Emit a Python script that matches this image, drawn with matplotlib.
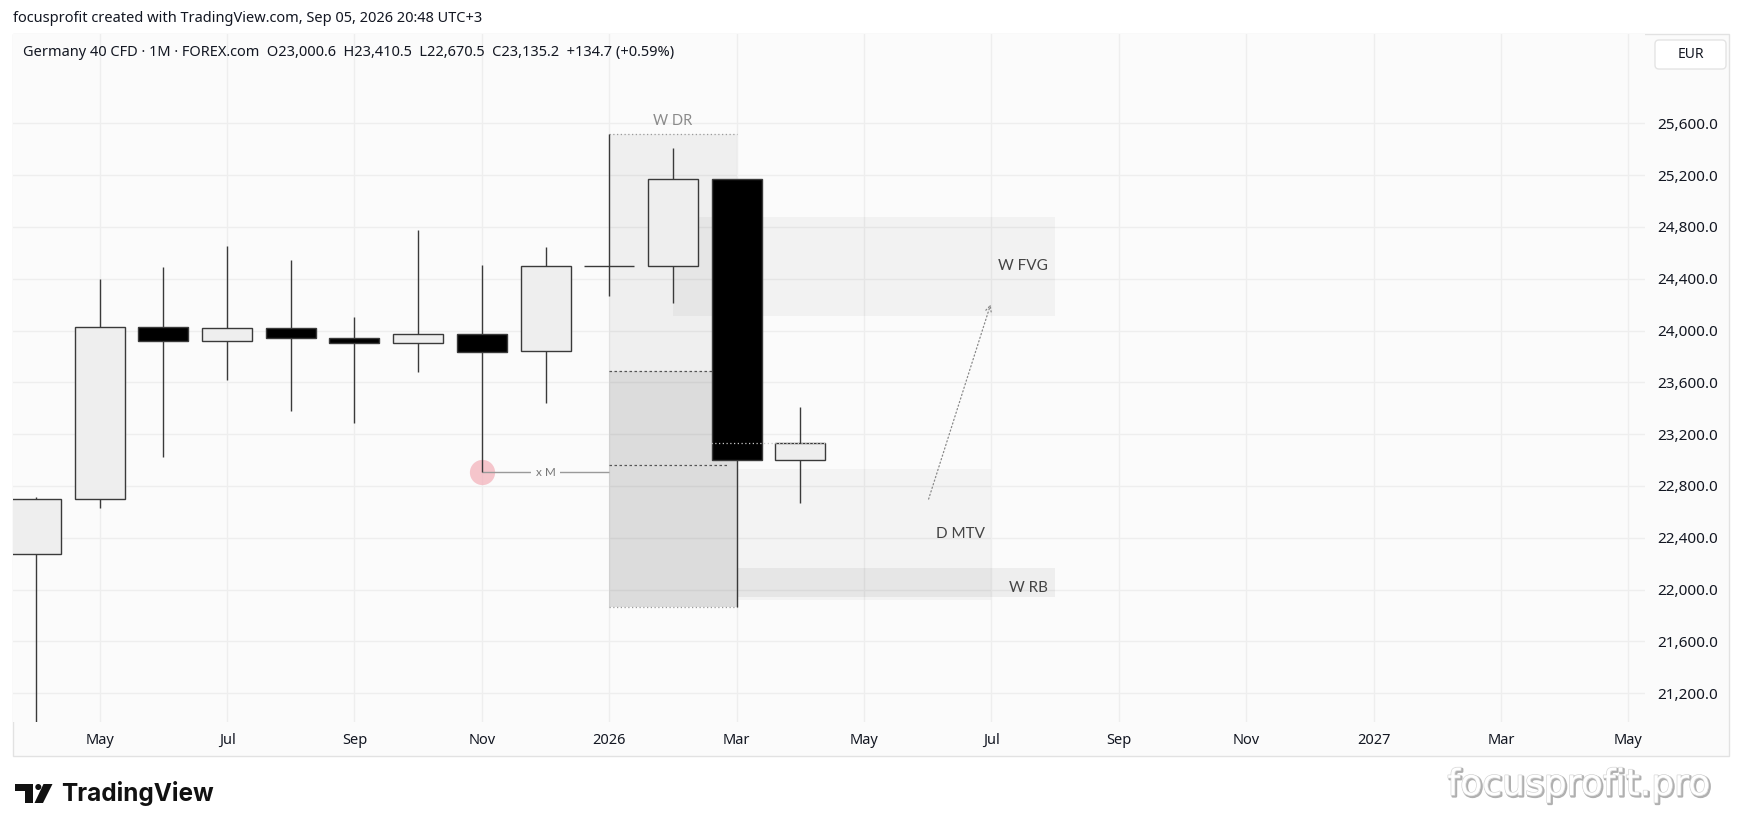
import matplotlib
matplotlib.use('Agg')
import matplotlib.pyplot as plt
import matplotlib.patheffects as pe
from matplotlib.patches import Rectangle, Circle, Polygon, FancyBboxPatch

# ── Data ──────────────────────────────────────────────────────────────────────
# monthly bars, index 0 = Apr 2025
MONTHS = ['Apr 25', 'May 25', 'Jun 25', 'Jul 25', 'Aug 25', 'Sep 25', 'Oct 25',
          'Nov 25', 'Dec 25', 'Jan 26', 'Feb 26', 'Mar 26', 'Apr 26']
OPEN = [22274, 22697, 24030, 23917, 24017, 23940, 23901, 23971, 23839, 24496, 24498, 25168, 23000.6]
HIGH = [22717, 24397, 24490, 24652, 24544, 24104, 24775, 24506, 24642, 25515, 25407, 25168, 23410.5]
LOW = [18490, 22632, 23026, 23618, 23378, 23288, 23682, 22905, 23438, 24269, 24210, 21863, 22670.5]
CLOSE = [22697, 24030, 23917, 24017, 23940, 23901, 23971, 23836, 24496, 24500, 25168, 23001, 23135.2]

XTICKS = [1, 3, 5, 7, 9, 11, 13, 15, 17, 19, 21, 23, 25]
XLABELS = ['May', 'Jul', 'Sep', 'Nov', '2026', 'Mar', 'May', 'Jul', 'Sep', 'Nov', '2027', 'Mar', 'May']
YTICKS = [21200, 21600, 22000, 22400, 22800, 23200, 23600, 24000, 24400, 24800, 25200, 25600]

# zones: (x0, x1, low, high)
WDR = (9, 11, 21863, 25515)
WDR_MID = 23689
WDR_LINE = 22959
WFVG = (10, 16, 24112, 24879)
DMTV = (11, 15, 21918, 22928)
WRB = (11, 16, 21944, 22164)
XM_LEVEL = 22905
ARROW = ((14, 22678), (15, 24222))
LAST_PRICE = 23135.2

HEADER = 'focusprofit created with TradingView.com, Sep 05, 2026 20:48 UTC+3'
LEGEND = ('Germany 40 CFD · 1M · FOREX.com  O23,000.6  H23,410.5  '
          'L22,670.5  C23,135.2  +134.7 (+0.59%)')

# ── Layout ────────────────────────────────────────────────────────────────────
W, H = 1744, 832
BG = '#fbfbfb'
INK = '#131722'
EDGE = '#3a3a3a'
FONT = ['Noto Sans', 'DejaVu Sans']
LABEL_FONT = ['Lato', 'DejaVu Sans']

plt.rcParams['font.family'] = FONT

fig = plt.figure(figsize=(W / 100, H / 100), dpi=100)
fig.patch.set_facecolor('white')

# chart pane (drawn behind the axes)
fig.patches.append(Rectangle((13 / W, 1 - 756 / H), (1729 - 13) / W, (756 - 34) / H,
                             transform=fig.transFigure, facecolor=BG,
                             edgecolor='#e2e2e2', linewidth=1, zorder=-5))

ax = fig.add_axes([13 / W, 1 - 722 / H, (1645 - 13) / W, (722 - 34) / H], zorder=1)
ax.set_facecolor(BG)
for s in ax.spines.values():
    s.set_visible(False)
ax.set_xlim(-0.361, 25.26)
ax.set_ylim(20977, 26290)

ax.set_xticks(XTICKS)
ax.set_xticklabels(XLABELS)
ax.set_yticks(YTICKS)
ax.set_yticklabels([f'{v:,.1f}' for v in YTICKS])
ax.yaxis.tick_right()
ax.tick_params(axis='x', length=0, pad=8, labelsize=10.5, labelcolor=INK)
ax.tick_params(axis='y', length=0, pad=9, labelsize=11, labelcolor=INK)
for lbl in ax.get_xticklabels():
    if lbl.get_text() in ('2026', '2027'):
        lbl.set_fontweight('bold')
for lbl in ax.get_yticklabels():
    if lbl.get_text() in ('24,000.0', '22,000.0'):
        lbl.set_fontweight('bold')
ax.grid(True, color='#eeeeee', linewidth=1)
ax.set_axisbelow(True)

# ── Zones (translucent grey so overlaps darken) ──────────────────────────────
x0, x1, lo, hi = WDR
ax.fill_between([x0, x1], WDR_MID, hi, color='black', alpha=0.048, zorder=1, linewidth=0)
ax.fill_between([x0, x1], lo, WDR_MID, color='black', alpha=0.12, zorder=1, linewidth=0)
ax.hlines([hi, lo], x0, x1, colors='#9a9a9a', linestyles=(0, (1, 2)), linewidth=0.9, zorder=2)
ax.hlines([WDR_MID, WDR_LINE], x0, x1 - 0.12, colors='#555555', linestyles=(0, (2, 2)),
          linewidth=0.9, zorder=2)
ax.text((x0 + x1) / 2, 25615, 'W DR', ha='center', va='center', fontsize=10.5,
        color='#8a8a8a', family=LABEL_FONT, zorder=6)

for (zx0, zx1, zlo, zhi), a in [(WFVG, 0.035), (DMTV, 0.03), (WRB, 0.05)]:
    ax.fill_between([zx0, zx1], zlo, zhi, color='black', alpha=a, zorder=1, linewidth=0)

ax.text(15.89, (WFVG[2] + WFVG[3]) / 2, 'W FVG', ha='right', va='center', fontsize=11,
        color='#444444', family=LABEL_FONT, zorder=6)
ax.text(14.9, 22429, 'D MTV', ha='right', va='center', fontsize=11,
        color='#444444', family=LABEL_FONT, zorder=6)
ax.text(15.89, 22014, 'W RB', ha='right', va='center', fontsize=11,
        color='#444444', family=LABEL_FONT, zorder=6)

# x M level
ax.scatter([7], [XM_LEVEL], s=330, color='#f3b3bc', alpha=0.75, linewidths=0, zorder=2)
ax.hlines(XM_LEVEL, 7, 9, colors='#9a9a9a', linewidth=1, zorder=2)
ax.text(8, XM_LEVEL, 'x M', ha='center', va='center', fontsize=8.5, color='#777777',
        family=LABEL_FONT, zorder=6,
        bbox=dict(facecolor=BG, edgecolor='none', pad=3.5))

# ── Candles ───────────────────────────────────────────────────────────────────
xs = list(range(len(MONTHS)))
ax.vlines(xs, LOW, HIGH, colors=EDGE, linewidth=1.0, zorder=3)
for i in xs:
    o, c = OPEN[i], CLOSE[i]
    fill = '#eeeeee' if c >= o else '#000000'
    ax.bar(i, abs(c - o), bottom=min(o, c), width=0.785, color=fill,
           edgecolor=EDGE, linewidth=1.0, zorder=4)

ax.hlines(LAST_PRICE, 10.6, 12.4, colors='#c8c8c8', linestyles=(0, (1, 2)),
          linewidth=0.9, zorder=5)

# projection arrow
ax.annotate('', xy=ARROW[1], xytext=ARROW[0],
            arrowprops=dict(arrowstyle='->', color='#888888', linewidth=0.9,
                            linestyle=(0, (1, 2)), mutation_scale=10), zorder=6)

# ── Overlay: header, legend, currency box, logos ─────────────────────────────
ov = fig.add_axes([0, 0, 1, 1], zorder=10)
ov.set_xlim(0, W)
ov.set_ylim(H, 0)
ov.axis('off')
ov.patch.set_visible(False)

ov.text(13, 19, HEADER, ha='left', va='center', fontsize=10.5, color=INK)
ov.text(23, 53, LEGEND, ha='left', va='center', fontsize=10.5, color=INK)

ov.add_patch(FancyBboxPatch((1655, 40), 71, 29, boxstyle='round,pad=0,rounding_size=4',
                            facecolor='white', edgecolor='#e4e4e4', linewidth=1))
ov.text(1690.5, 54.5, 'EUR', ha='center', va='center', fontsize=10, color=INK)

# TradingView mark
ov.add_patch(Polygon([(15, 784), (33, 784), (33, 803), (24.5, 803), (24.5, 791), (15, 791)],
                     closed=True, facecolor='#111111', edgecolor='none'))
ov.add_patch(Circle((38.3, 787), 3.0, facecolor='#111111', edgecolor='none'))
ov.add_patch(Polygon([(43.5, 784), (52.5, 784), (43, 803), (34.5, 803)],
                     closed=True, facecolor='#111111', edgecolor='none'))
ov.text(61, 794, 'TradingView', ha='left', va='center', fontsize=17.5, fontweight='bold',
        color='#111111', family=['Inter', 'DejaVu Sans'])

ov.text(1579, 785, 'focusprofit.pro', ha='center', va='center', fontsize=26,
        color='white', family=['DejaVu Sans'],
        path_effects=[pe.Stroke(linewidth=1.8, foreground='#b0b0b0', offset=(1, -1)),
                      pe.Stroke(linewidth=1.0, foreground='#d6d6d6'),
                      pe.Normal()])

fig.savefig('out.png', dpi=100, facecolor='white')
plt.close(fig)
